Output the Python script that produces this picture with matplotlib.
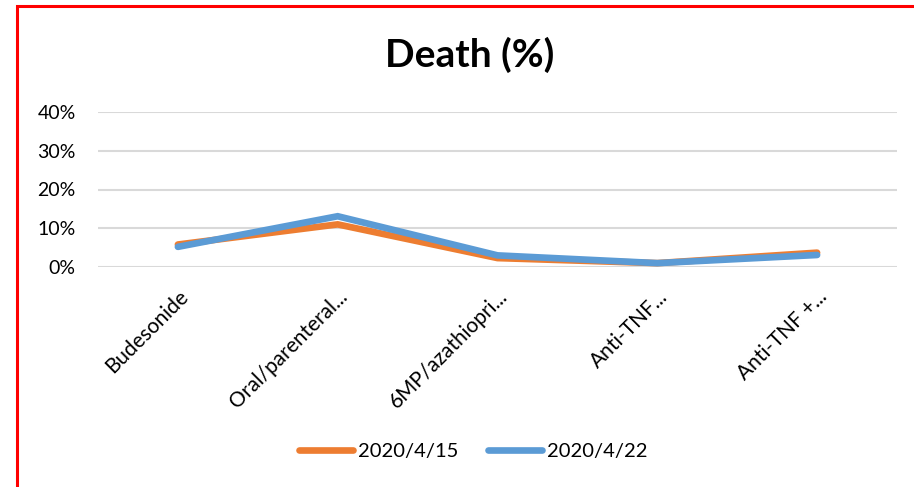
import matplotlib
matplotlib.use("Agg")
import matplotlib.pyplot as plt
from matplotlib.patches import Rectangle
from matplotlib.ticker import PercentFormatter

# Data
categories = ["Budesonide", "Oral/parenteral...", "6MP/azathiopri...", "Anti-TNF...", "Anti-TNF +..."]
death_0415 = [0.058, 0.110, 0.023, 0.010, 0.037]
death_0422 = [0.052, 0.131, 0.030, 0.010, 0.031]
series_labels = ["2020/4/15", "2020/4/22"]

plt.rcParams['font.family'] = ['Lato', 'DejaVu Sans']

fig = plt.figure(figsize=(9.14, 4.87), dpi=100)
ax = fig.add_axes([98 / 914, 1 - 267 / 487, 799 / 914, 155 / 487])

x = list(range(len(categories)))
ax.plot(x, death_0415, color='#ED7D31', lw=4.8, solid_capstyle='round',
        solid_joinstyle='miter', label=series_labels[0], zorder=3)
ax.plot(x, death_0422, color='#5B9BD5', lw=4.8, solid_capstyle='round',
        solid_joinstyle='miter', label=series_labels[1], zorder=4)

ax.set_xlim(-0.5, len(categories) - 0.5)
ax.set_ylim(0, 0.4)
ax.set_yticks([0, 0.1, 0.2, 0.3, 0.4])
ax.yaxis.set_major_formatter(PercentFormatter(1.0, decimals=0))
ax.grid(axis='y', color='#D9D9D9', lw=1.5)
ax.set_axisbelow(True)
for s in ax.spines.values():
    s.set_visible(False)
ax.tick_params(axis='y', length=0, labelsize=14, pad=16)
ax.set_xticks(x)
ax.set_xticklabels(categories, rotation=45, ha='right', rotation_mode='anchor')
ax.tick_params(axis='x', length=0, labelsize=15, pad=14)

fig.text(470 / 914, 1 - 67 / 487, "Death (%)", ha='center', va='baseline',
         fontsize=28, fontweight='bold')

fig.legend(loc='center', bbox_to_anchor=(473 / 914, 1 - 451 / 487), ncol=2,
           frameon=False, fontsize=14.5, handlelength=2.7, handletextpad=0.25,
           columnspacing=1.45)

# red frame around the chart (only top and left edges are visible)
fig.patches.append(Rectangle((17 / 914, -0.1), 1.2, 1 - 6 / 487 + 0.1,
                             transform=fig.transFigure, fill=False,
                             edgecolor='#FF0000', lw=2.2))

fig.savefig("out.png", dpi=100)
